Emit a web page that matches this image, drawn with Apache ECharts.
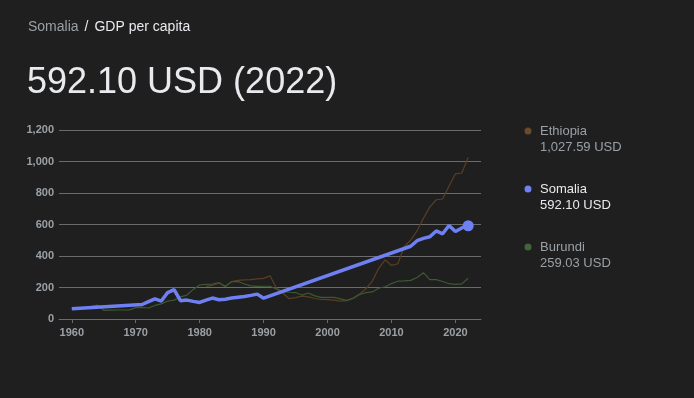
<!DOCTYPE html>
<html>
<head>
<meta charset="utf-8">
<script src="https://cdn.jsdelivr.net/npm/echarts@6/dist/echarts.min.js"></script>
<style>
  html, body { margin: 0; padding: 0; background: #1f1f1f; }
  #main { width: 694px; height: 398px; }
</style>
</head>
<body>
<div id="main"></div>
<script>
// GDP per capita (current USD)
const somaliaYears = [1960, 1971, 1972, 1973, 1974, 1975, 1976, 1977, 1978, 1979, 1980, 1981, 1982, 1983, 1984,
  1985, 1986, 1987, 1988, 1989, 1990, 2013, 2014, 2015, 2016, 2017, 2018, 2019, 2020, 2021, 2022];
const somaliaValues = [65, 92, 110, 128, 114, 168, 186, 116, 120, 112, 105, 120, 133, 122, 126,
  133, 138, 143, 150, 158, 132, 462, 497, 512, 522, 559, 541, 594, 556, 578, 592.10];

const ethiopiaYears = [1981, 1982, 1983, 1984, 1985, 1986, 1987, 1988, 1989, 1990, 1991, 1992, 1993, 1994,
  1995, 1996, 1997, 1998, 1999, 2000, 2001, 2002, 2003, 2004, 2005, 2006, 2007, 2008, 2009, 2010, 2011,
  2012, 2013, 2014, 2015, 2016, 2017, 2018, 2019, 2020, 2021, 2022];
const ethiopiaValues = [207, 214, 228, 207, 238, 245, 248, 250, 255, 258, 274, 197, 165, 129,
  136, 145, 140, 130, 124, 123, 120, 113, 117, 133, 158, 192, 240, 322, 376, 340, 351,
  460, 500, 560, 640, 712, 757, 762, 845, 922, 927, 1027.59];

const burundiYears = [1960, 1961, 1962, 1963, 1964, 1965, 1966, 1967, 1968, 1969, 1970, 1971, 1972, 1973,
  1974, 1975, 1976, 1977, 1978, 1979, 1980, 1981, 1982, 1983, 1984, 1985, 1986, 1987, 1988, 1989, 1990,
  1991, 1992, 1993, 1994, 1995, 1996, 1997, 1998, 1999, 2000, 2001, 2002, 2003, 2004, 2005, 2006, 2007,
  2008, 2009, 2010, 2011, 2012, 2013, 2014, 2015, 2016, 2017, 2018, 2019, 2020, 2021, 2022];
const burundiValues = [70, 71, 73, 79, 88, 55, 56, 57, 57, 58, 72, 74, 70, 86,
  96, 114, 120, 140, 152, 188, 216, 220, 222, 232, 207, 237, 238, 222, 210, 207, 208,
  208, 190, 175, 170, 168, 152, 165, 147, 137, 137, 137, 128, 118, 130, 155, 168, 172,
  195, 205, 225, 240, 242, 245, 264, 294, 250, 250, 238, 224, 220, 223, 259.03];

const yearTicks = [1960, 1970, 1980, 1990, 2000, 2010, 2020];
const yTicks = [0, 200, 400, 600, 800, 1000, 1200];

const countries = ['Ethiopia', 'Somalia', 'Burundi'];
const colors = { Ethiopia: '#6b4a2c', Somalia: '#6e80f2', Burundi: '#41653a' };
const lineColors = { Ethiopia: '#5a3e24', Somalia: '#6e80f2', Burundi: '#3a5a31' };

const font = '"Liberation Sans", Arial, sans-serif';

function pairs(years, values) {
  return years.map((y, i) => [y, values[i]]);
}

function fmt(v) {
  return v.toLocaleString('en-US', { minimumFractionDigits: 2, maximumFractionDigits: 2 });
}

const lastValue = {
  Ethiopia: ethiopiaValues[ethiopiaValues.length - 1],
  Somalia: somaliaValues[somaliaValues.length - 1],
  Burundi: burundiValues[burundiValues.length - 1],
};

// Somalia: dot only on the last point
const somaliaData = pairs(somaliaYears, somaliaValues).map((p, i, arr) => {
  if (i === arr.length - 1) return { value: p, symbol: 'circle', symbolSize: 11 };
  return { value: p, symbol: 'none' };
});

// legend drawn as graphic text
const legendEls = [];
const legendTop = [131, 189, 247];
countries.forEach((c, k) => {
  const active = c === 'Somalia';
  legendEls.push({
    type: 'circle',
    shape: { cx: 528, cy: legendTop[k], r: 3.5 },
    style: { fill: colors[c] },
  });
  legendEls.push({
    type: 'text',
    x: 540,
    y: legendTop[k],
    style: {
      text: c,
      fill: active ? '#e8eaed' : '#9aa0a6',
      font: `13px ${font}`,
      verticalAlign: 'middle',
    },
  });
  legendEls.push({
    type: 'text',
    x: 540,
    y: legendTop[k] + 16,
    style: {
      text: `${fmt(lastValue[c])} USD`,
      fill: active ? '#e8eaed' : '#9aa0a6',
      font: `13px ${font}`,
      verticalAlign: 'middle',
    },
  });
});

const myChart = echarts.init(document.getElementById('main'));
myChart.setOption({
  backgroundColor: '#1f1f1f',
  animation: false,
  title: [
    {
      left: 23,
      top: 15,
      text: '{a|Somalia}{s|/}{b|GDP per capita}',
      textStyle: {
        rich: {
          a: { color: '#9aa0a6', fontSize: 14, fontWeight: 'normal', fontFamily: font },
          s: { color: '#e8eaed', fontSize: 14, fontWeight: 'normal', fontFamily: font, padding: [0, 6, 0, 6] },
          b: { color: '#e8eaed', fontSize: 14, fontWeight: 'normal', fontFamily: font },
        },
      },
    },
    {
      left: 22,
      top: 60,
      text: `${fmt(lastValue.Somalia)} USD (2022)`,
      textStyle: { color: '#e8eaed', fontSize: 36, fontWeight: 'normal', fontFamily: font },
    },
  ],
  grid: { left: 59, right: 213, top: 130, bottom: 79 },
  xAxis: {
    type: 'value',
    min: 1958,
    max: 2024,
    axisLine: { show: true, lineStyle: { color: '#6b6b6b' } },
    axisTick: { show: true, customValues: yearTicks, length: 4, lineStyle: { color: '#6b6b6b' } },
    axisLabel: {
      customValues: yearTicks,
      color: '#9aa0a6',
      fontSize: 11,
      fontWeight: 'bold',
      fontFamily: font,
      margin: 8,
      formatter: (v) => String(v),
    },
    splitLine: { show: false },
  },
  yAxis: {
    type: 'value',
    min: yTicks[0],
    max: yTicks[yTicks.length - 1],
    interval: 200,
    axisLine: { show: false },
    axisTick: { show: false },
    axisLabel: {
      color: '#9aa0a6',
      fontSize: 11,
      fontWeight: 'bold',
      fontFamily: font,
      margin: 5,
      formatter: (v) => v.toLocaleString('en-US'),
    },
    splitLine: { lineStyle: { color: '#6b6b6b', width: 1 } },
  },
  series: [
    {
      name: 'Ethiopia',
      type: 'line',
      data: pairs(ethiopiaYears, ethiopiaValues),
      showSymbol: false,
      lineStyle: { color: lineColors.Ethiopia, width: 1.2 },
      itemStyle: { color: lineColors.Ethiopia },
      z: 2,
    },
    {
      name: 'Burundi',
      type: 'line',
      data: pairs(burundiYears, burundiValues),
      showSymbol: false,
      lineStyle: { color: lineColors.Burundi, width: 1.2 },
      itemStyle: { color: lineColors.Burundi },
      z: 2,
    },
    {
      name: 'Somalia',
      type: 'line',
      data: somaliaData,
      showSymbol: true,
      showAllSymbol: true,
      lineStyle: { color: lineColors.Somalia, width: 3.5 },
      itemStyle: { color: colors.Somalia },
      z: 3,
    },
  ],
  graphic: legendEls,
});
</script>
</body>
</html>
